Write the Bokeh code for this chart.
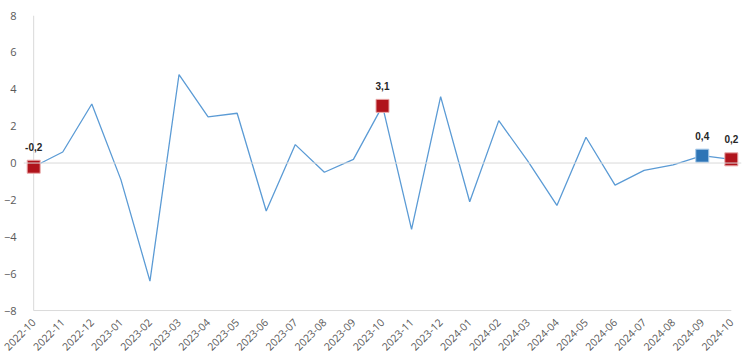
import math
from bokeh.plotting import figure
from bokeh.models import Range1d, FixedTicker, Span, ColumnDataSource
from bokeh.core.properties import value
from bokeh.embed import file_html
from bokeh.resources import INLINE

months = ["2022-10", "2022-11", "2022-12", "2023-01", "2023-02", "2023-03", "2023-04",
          "2023-05", "2023-06", "2023-07", "2023-08", "2023-09", "2023-10", "2023-11",
          "2023-12", "2024-01", "2024-02", "2024-03", "2024-04", "2024-05", "2024-06",
          "2024-07", "2024-08", "2024-09", "2024-10"]
values = [-0.2, 0.6, 3.2, -0.9, -6.4, 4.8, 2.5, 2.7, -2.6, 1.0, -0.5, 0.2, 3.1, -3.6,
          3.6, -2.1, 2.3, 0.1, -2.3, 1.4, -1.2, -0.4, -0.1, 0.4, 0.2]
highlight_idx = [0, 12, 23, 24]
highlight_colors = ["#B0141C", "#B0141C", "#2E75B6", "#B0141C"]
highlight_edges = ["#E9A9A9", "#E9A9A9", "#A9CBEA", "#E9A9A9"]
y_ticks = [-8, -6, -4, -2, 0, 2, 4, 6, 8]

x = list(range(len(months)))
n = len(months) - 1

p = figure(width=750, height=362, output_backend="svg", toolbar_location=None,
           x_range=Range1d(-0.35, n + 0.35), y_range=Range1d(-8.05, 8),
           min_border_left=18, min_border_right=9, min_border_top=15, min_border_bottom=51)
p.outline_line_color = None
p.background_fill_color = "white"
p.border_fill_color = "white"
p.xgrid.visible = False
p.ygrid.visible = False

# zero line and axis lines
p.add_layout(Span(location=0, dimension="width", line_color="#D9D9D9", line_width=1))
p.segment(x0=[0, 0], y0=[min(y_ticks), min(y_ticks)], x1=[0, n], y1=[max(y_ticks), min(y_ticks)],
          line_color="#D9D9D9", line_width=1)

p.line(x, values, line_color="#5B9BD5", line_width=1.3)

hx = [x[i] for i in highlight_idx]
hy = [values[i] for i in highlight_idx]
hl = [("%.1f" % values[i]).replace(".", ",") for i in highlight_idx]
src = ColumnDataSource(dict(x=hx, y=hy, c=highlight_colors, e=highlight_edges, t=hl))
p.scatter("x", "y", source=src, marker="square", size=13, fill_color="c",
          line_color="e", line_width=1)
p.text("x", "y", text="t", source=src, y_offset=-16, text_align="center",
       text_baseline="bottom", text_font=value("Liberation Sans"), text_font_size="10px",
       text_font_style="bold", text_color="#262626")

ax = p.xaxis[0]
ax.ticker = FixedTicker(ticks=x)
ax.major_label_overrides = {i: m for i, m in zip(x, months)}
ax.major_label_orientation = math.pi / 4
ax.axis_line_color = None
ax.major_tick_line_color = None
ax.minor_tick_line_color = None
ax.major_label_text_color = "#595959"
ax.major_label_text_font = "Open Sans"
ax.major_label_text_font_size = "10.5px"
ax.major_label_standoff = 3

ay = p.yaxis[0]
ay.ticker = FixedTicker(ticks=y_ticks)
ay.axis_line_color = None
ay.major_tick_line_color = None
ay.minor_tick_line_color = None
ay.major_label_text_color = "#595959"
ay.major_label_text_font = "Open Sans"
ay.major_label_text_font_size = "11px"
ay.major_label_standoff = 1

open("out.html", "w").write(file_html(p, INLINE))
